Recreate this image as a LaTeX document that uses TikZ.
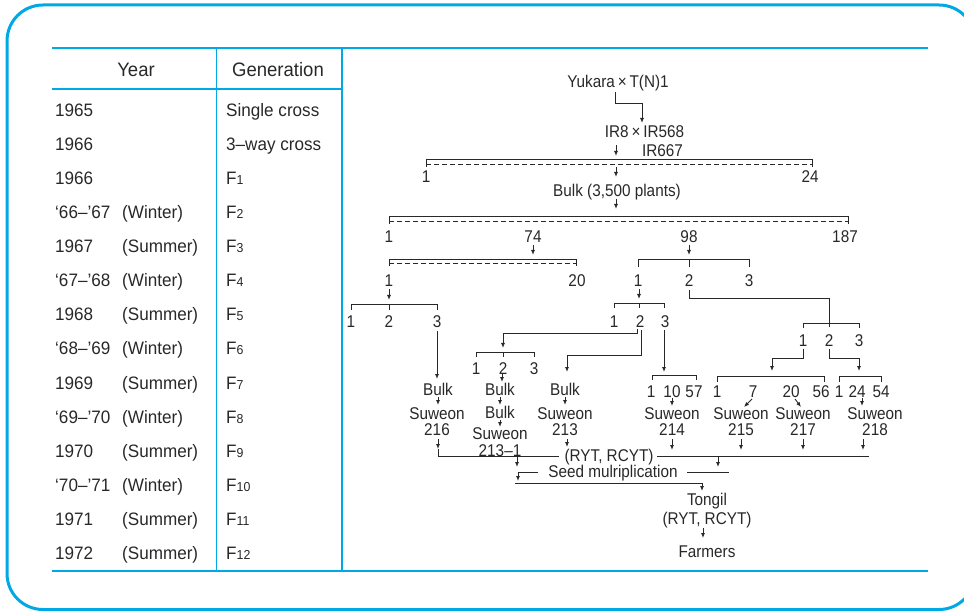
\documentclass[tikz,border=0pt]{standalone}
\usepackage{fontspec}
\setmainfont{Liberation Sans}
\newfontfamily\treefont{Liberation Sans}[FakeStretch=0.9]
\newfontfamily\tabfont{Liberation Sans}[FakeStretch=0.95]
\usetikzlibrary{arrows.meta}
\definecolor{cyanB}{RGB}{0,168,228}
\definecolor{inkc}{RGB}{40,40,40}
\newcommand\gsub[1]{{\fontsize{13}{13}\selectfont #1}}
\tikzset{
  tt/.style={font=\treefont\fontsize{17}{17}\selectfont, inner sep=0pt, anchor=base, text=inkc},
  tb/.style={font=\tabfont\fontsize{18}{18}\selectfont, inner sep=0pt, anchor=base west, text=inkc},
  th/.style={font=\tabfont\fontsize{19.5}{19.5}\selectfont, inner sep=0pt, anchor=base, text=inkc},
  ln/.style={draw=inkc, line width=0.9pt},
  arr/.style={ln, -{Latex[length=5pt,width=4pt]}},
  dsh/.style={draw=inkc, line width=0.9pt, dash pattern=on 5pt off 3pt},
  cyline/.style={draw=cyanB}
}
\begin{document}
\begin{tikzpicture}[x=1pt,y=-1pt]
\useasboundingbox (0,0) rectangle (964,612);
\clip (0,0) rectangle (964,612);
% outer frame
\draw[cyline, line width=3pt, rounded corners=36pt] (7,5) rectangle (975,609.5);
% table rules
\draw[cyline, line width=2.5pt] (52,48) -- (928,48);
\draw[cyline, line width=2pt] (52,89) -- (342,89);
\draw[cyline, line width=2.5pt] (52,571) -- (928,571);
\draw[cyline, line width=1.3pt] (216.5,48) -- (216.5,571);
\draw[cyline, line width=1.5pt] (342,48) -- (342,571);
% headers
\node[th] (hyear) at (136,77) {Year};
\node[th] (hgen) at (278,77) {Generation};
% rows
\foreach \i/\yr/\ss/\gen in {
  1/1965/{}/Single cross,
  2/1966/{}/3–way cross,
  3/1966/{}/F\gsub{1},
  4/‘66–’67/(Winter)/F\gsub{2},
  5/1967/(Summer)/F\gsub{3},
  6/‘67–’68/(Winter)/F\gsub{4},
  7/1968/(Summer)/F\gsub{5},
  8/‘68–’69/(Winter)/F\gsub{6},
  9/1969/(Summer)/F\gsub{7},
  10/‘69–’70/(Winter)/F\gsub{8},
  11/1970/(Summer)/F\gsub{9},
  12/‘70–’71/(Winter)/F\gsub{10},
  13/1971/(Summer)/F\gsub{11},
  14/1972/(Summer)/F\gsub{12}}{
  \node[tb] (yr\i) at (55,{117+34*(\i-1)}) {\yr};
  \node[tb] (ss\i) at (122,{117+34*(\i-1)}) {\ss};
  \node[tb] (gn\i) at (226,{117+34*(\i-1)}) {\gen};
}
% ---------------- tree text ----------------
\node[tt] (yuk) at (618,87.5) {Yukara\,×\,T(N)1};
\node[tt] (ir) at (644.5,138) {IR8\,×\,IR568};
\node[tt] (ir667) at (662.5,157) {IR667};
\node[tt] (a1) at (426,183) {1};
\node[tt] (a24) at (810,183) {24};
\node[tt] (bulkA) at (617,197) {Bulk (3,500 plants)};
\node[tt] (b1) at (389,243) {1};
\node[tt] (b74) at (533,243) {74};
\node[tt] (b98) at (689,243) {98};
\node[tt] (b187) at (845,243) {187};
\node[tt] (c1) at (389,287) {1};
\node[tt] (c20) at (577,287) {20};
\node[tt] (d1) at (638,287) {1};
\node[tt] (d2) at (689,287) {2};
\node[tt] (d3) at (749,287) {3};
\node[tt] (e1) at (351,328) {1};
\node[tt] (e2) at (389,328) {2};
\node[tt] (e3) at (437,328) {3};
\node[tt] (f1) at (614,327) {1};
\node[tt] (f2) at (640,327) {2};
\node[tt] (f3) at (665,327) {3};
\node[tt] (h1) at (803,347) {1};
\node[tt] (h2) at (829,347) {2};
\node[tt] (h3) at (859,347) {3};
\node[tt] (i1) at (476,374) {1};
\node[tt] (i2) at (503,374) {2};
\node[tt] (i3) at (534,374) {3};
\node[tt] (j1) at (651,397) {1};
\node[tt] (j10) at (672,397) {10};
\node[tt] (j57) at (694,397) {57};
\node[tt] (k1) at (717,397) {1};
\node[tt] (k7) at (753,397) {7};
\node[tt] (k20) at (791,397) {20};
\node[tt] (k56) at (821,397) {56};
\node[tt] (m1) at (839,397) {1};
\node[tt] (m24) at (857,397) {24};
\node[tt] (m54) at (881,397) {54};
\node[tt] (bk1) at (438,395) {Bulk};
\node[tt] (bk2) at (500,395) {Bulk};
\node[tt] (bk3) at (565,395) {Bulk};
\node[tt] (sw216) at (437,419) {Suweon};
\node[tt] (n216) at (437,435) {216};
\node[tt] (bk2b) at (500,418) {Bulk};
\node[tt] (sw2131) at (500,439.5) {Suweon};
\node[tt] (n2131) at (500,456) {213–1};
\node[tt] (sw213) at (565,419) {Suweon};
\node[tt] (n213) at (565,435) {213};
\node[tt] (sw214) at (672,419) {Suweon};
\node[tt] (n214) at (672,435) {214};
\node[tt] (sw215) at (741,419) {Suweon};
\node[tt] (n215) at (741,435) {215};
\node[tt] (sw217) at (803,419) {Suweon};
\node[tt] (n217) at (803,435) {217};
\node[tt] (sw218) at (875,419) {Suweon};
\node[tt] (n218) at (875,435) {218};
\node[tt] (ryt) at (609,461) {(RYT, RCYT)};
\node[tt] (seed) at (613,477) {Seed mulriplication};
\node[tt] (tongil) at (707,505) {Tongil};
\node[tt] (ryt2) at (707,524) {(RYT, RCYT)};
\node[tt] (farm) at (707,557) {Farmers};
% ---------------- tree connectors ----------------
\draw[arr] (615,92) -- (615,103) -- (642,103) -- (642,123);
\draw[arr] (616,145) -- (616,156);
% bracket A (1..24)
\draw[ln] (426,167) -- (426,159) -- (812,159) -- (812,167);
\draw[dsh] (426,164) -- (812,164);
\draw[arr] (616,167) -- (616,177);
\draw[arr] (616,199) -- (616,209);
% bracket B (1..187)
\draw[ln] (389,224) -- (389,216) -- (848,216) -- (848,224);
\draw[dsh] (389,221) -- (848,221);
% from 74
\draw[arr] (533,245) -- (533,255);
\draw[ln] (389,266) -- (389,259) -- (576,259) -- (576,266);
\draw[dsh] (389,263.5) -- (576,263.5);
% from 98
\draw[arr] (689,245) -- (689,255);
\draw[ln] (638,267) -- (638,259) -- (749,259) -- (749,267);
\draw[ln] (689,259) -- (689,267);
% from 1 (of 74 group)
\draw[arr] (389,289) -- (389,300);
\draw[ln] (351,310) -- (351,304) -- (437,304) -- (437,310);
\draw[ln] (389,304) -- (389,310);
\draw[arr] (437,331) -- (437,379);
\draw[arr] (438,397) -- (438,405);
\draw[arr] (438,439) -- (438,449);
\draw[ln] (438,449) -- (438,456) -- (559,456);
% from 1 (of 98 group)
\draw[arr] (639,289) -- (639,299);
\draw[ln] (614,308) -- (614,303) -- (664,303) -- (664,308);
\draw[ln] (639,303) -- (639,308);
\draw[arr] (637,329) -- (637,333) -- (503,333) -- (503,348);
\draw[arr] (641,330) -- (641,355) -- (567,355) -- (567,372);
\draw[ln] (476,357) -- (476,352) -- (534,352) -- (534,357);
\draw[ln] (503,352) -- (503,357);
\draw[arr] (502,374) -- (502,382);
\draw[arr] (500,397) -- (500,405);
\draw[arr] (500,420) -- (500,427);
\draw[arr] (565,397) -- (565,405);
\draw[arr] (567,439) -- (567,447);
\draw[arr] (664,330) -- (664,372);
\draw[ln] (652,380) -- (652,375) -- (696,375) -- (696,380);
\draw[arr] (672,398) -- (672,406);
% from 2 (of 98 group)
\draw[ln] (689,290) -- (689,298) -- (829,298) -- (829,327);
\draw[ln] (803,328) -- (803,323) -- (859,323) -- (859,328);
\draw[arr] (803,349) -- (803,358) -- (772,358) -- (772,371);
\draw[arr] (829,349) -- (829,358) -- (859,358) -- (859,371);
\draw[ln] (717,382) -- (717,376) -- (824,376) -- (824,382);
\draw[ln] (839,382) -- (839,376) -- (881,376) -- (881,382);
\draw[arr] (752,399) -- (744,407);
\draw[arr] (795,399) -- (801,407);
\draw[arr] (862,398) -- (862,406);
% to trials
\draw[arr] (672,439) -- (672,450);
\draw[arr] (741,439) -- (741,450);
\draw[arr] (803,439) -- (803,450);
\draw[arr] (863,439) -- (863,450);
\draw[ln] (657,456) -- (869,456);
\draw[arr] (517,456) -- (517,467);
\draw[arr] (718,456) -- (718,467);
\draw[ln] (687,472) -- (729,472);
\draw[arr] (538,472) -- (518,472) -- (518,481);
\draw[arr] (515,483) -- (702,483) -- (702,491);
\draw[arr] (703,528) -- (703,538);
\end{tikzpicture}
\end{document}
